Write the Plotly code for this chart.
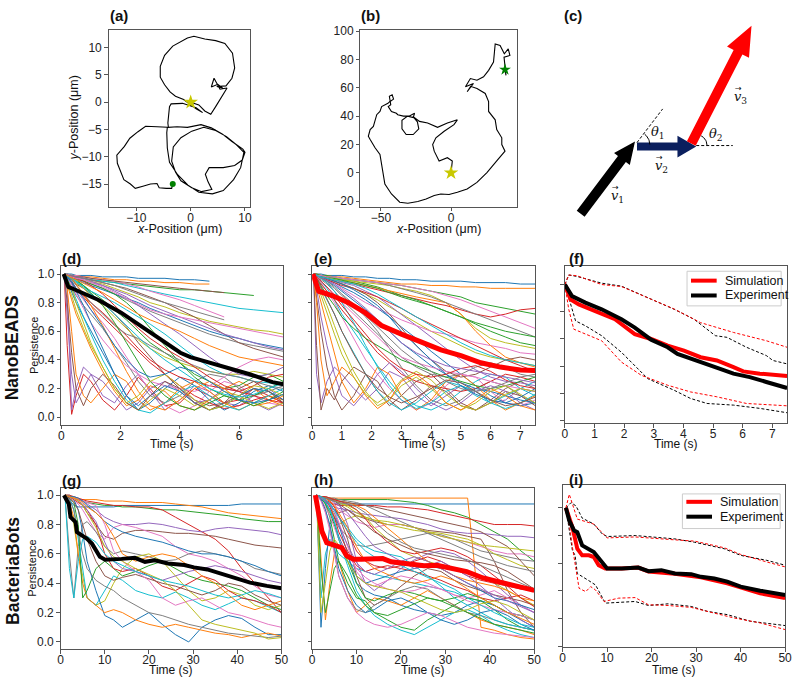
import plotly.graph_objects as go
import numpy as np

TAB10 = ["#1f77b4", "#ff7f0e", "#2ca02c", "#d62728", "#9467bd",
         "#8c564b", "#e377c2", "#7f7f7f", "#bcbd22", "#17becf"]
FONT = "Liberation Sans, Arial, sans-serif"

# ---------------- (a) trajectory ----------------
A_X = [0, 1.5, 2.6, 3.7, 4.6, 5.6, 6.7, 5.4, 4.3, 3.8, 5.0, 5.9, 4.8, 6.5, 7.6, 8.1, 7.7, 6.3, 4.6, 2.6,
       0.6, -0.6, -1.6, -3.3, -4.8, -5.6, -5.6, -4.8, -3.8, -2.8, -1.3, -0.2, 1.0, 2.2, 1.0, -1.5, -3.6,
       -3.9, -4.0, -4.2, -4.1, -2.5, -0.6, 1.2, 1.9, 3.8, 5.8, 7.6, 9.6, 10.0, 9.5, 8.1, 6.0, 3.4, 2.7,
       3.2, 3.9, 2.0, 0.2, -1.8, -2.8, -3.5, -3.2, -1.8, 0.2, 2.4, 4.6, 6.6, 8.3, 9.8, 9.2, 7.9, 6.0,
       4.0, 1.5, -0.5, -2.4, -3.9, -4.3, -4.4, -4.3, -6.2, -8.3, -9.7, -11.2, -12.2, -13.6, -13.5,
       -12.9, -12.3, -11.1, -10.2, -8.8, -7.4, -6.2, -5.8, -4.5, -3.5, -3.3]
A_Y = [0, -0.5, -1.6, -2.2, -0.8, 0.8, 2.6, 2.4, 4.4, 2.8, 3.3, 2.6, 2.9, 3.0, 4.4, 6.3, 9.0, 10.8, 11.3,
       11.6, 12.1, 11.8, 11.3, 10.3, 8.6, 6.6, 4.6, 3.2, 1.9, 1.1, 0.5, -0.3, -1.2, -1.9, -1.0, -0.2,
       -0.3, -0.8, -2.2, -3.8, -4.6, -4.5, -4.6, -4.2, -4.1, -4.7, -5.8, -7.2, -8.6, -9.2, -10.6, -11.6,
       -12.0, -12.0, -13.2, -14.6, -16.0, -16.4, -15.7, -14.4, -12.8, -10.8, -8.2, -6.5, -5.3, -4.6,
       -5.2, -6.3, -7.7, -9.2, -12.0, -14.2, -16.2, -16.8, -16.5, -15.2, -13.3, -11.0, -8.4, -5.6,
       -4.6, -4.5, -4.4, -5.4, -6.6, -8.1, -9.7, -11.2, -12.7, -14.2, -15.0, -15.8, -15.4, -15.0,
       -14.9, -15.7, -15.8, -15.8, -15.0]

# ---------------- (b) trajectory ----------------
B_X = [0, 0.9, -2.6, -8.5, -12, -13.1, -10.8, -4.9, 2.1, 4.5, -2.6, -9.6, -16.7, -22.5, -27.2,
       -24, -23, -27, -32, -35, -35, -31, -27, -26, -30, -34, -38, -39, -42.5, -44.8, -43, -44, -42,
       -41, -44, -43, -45, -49.5, -50.7, -53, -54.2, -55.4, -57.7, -59, -57.7, -54.2, -50.7, -49.5,
       -48.4, -47.2, -42.5, -36.6, -30.8, -23.7, -17.8, -12, -7.3, -1.4, 4.5, 11.5, 18.5, 25.6, 32.6,
       38.5, 36.2, 36.2, 32.6, 31.5, 26.8, 26.8, 24.4, 18.5, 14, 11.5, 16, 10.3, 13.8, 18.5, 23.2,
       26.8, 30.3, 30.8, 31.5, 35, 38, 40.8, 42, 37.8, 38.5, 39.2, 38.5]
B_Y = [0, 8.4, 10.7, 8.4, 15.3, 20, 24.7, 29.3, 34, 37.4, 35.1, 32.1, 35.1, 36.3, 39.8,
       36, 31, 27, 27, 31, 37, 40, 39, 42, 40, 40, 41, 42, 43.3, 46.7, 48, 54, 55,
       52, 50, 51, 49, 46.7, 43.3, 41, 36.3, 32.8, 30.5, 25.8, 23.5, 17.7, 13, 6,
       -0.9, -7.9, -14.9, -20.7, -21.4, -20.2, -18.4, -16, -14.9, -15.3, -13.7, -11.4, -6.7, 0.2, 8.4,
       15.3, 20, 24.7, 30.5, 37.4, 43.3, 50.2, 56, 59.5, 61, 57.2, 63, 60.7, 66.5, 65.3, 67.7,
       72.3, 78.1, 85.1, 90.9, 89.8, 84, 87.4, 82.8, 81.6, 75.8, 68.8, 72.8]

# ---------------- (c) diagram ----------------
ARROW_TAIL = [(45, 210), (102, 142), (157, 139)]
ARROW_TIP = [(100, 137), (162, 142), (218, 20)]
ARROW_COLOR = ["#000000", "#0b1f5e", "#ff0000"]
ARROW_SHAFT = [10, 8, 10]
ARROW_HEADW = [20, 22, 25]
ARROW_HEADL = [22, 19, 30]
DASH_START = [(102, 138), (162, 141)]
DASH_END = [(128, 104), (199, 141)]
ARC_CENTER = [(102, 140), (162, 141)]
ARC_RADIUS = [13, 11]
ARC_ANGLES = [(0, 53), (0, 63)]

# ---------------- (d) NanoBEADS experiment ----------------
D_T = [0.1, 0.2, 0.35, 0.5, 0.75, 1.0, 1.4, 1.8, 2.2, 2.6, 3.0, 3.5, 4.0, 4.5, 5.0, 5.5, 6.0, 6.5, 7.0, 7.5]
N = None
D_LINES = [
    [1, 1, 1, .99, .99, .99, .98, .98, .98, .97, .97, .97, .96, .96, .95, N, N, N, N, N],
    [1, 1, .99, .99, .98, .98, .97, .96, .96, .95, .95, .94, .94, .93, .93, N, N, N, N, N],
    [1, 1, .99, .98, .97, .96, .95, .94, .93, .92, .91, .90, .89, .89, .88, .87, .86, .85, N, N],
    [1, .5, .02, .15, .3, .25, .12, .05, .15, .28, .2, .08, .1, .2, .15, .1, .12, .2, .15, .1],
    [1, .9, .05, .2, .35, .3, .15, .1, .22, .3, .18, .05, .12, .22, .18, .1, .08, .15, .2, .12],
    [1, .98, .96, .93, .9, .86, .8, .72, .63, .52, .42, .3, .2, .12, .08, .1, .15, .2, .18, .12],
    [1, .97, .92, .88, .82, .75, .66, .55, .42, .3, .18, .08, .03, .08, .18, .25, .22, .15, .1, .08],
    [1, .99, .98, .97, .95, .93, .9, .86, .82, .78, .74, .7, .66, .62, .58, .55, .52, .5, .48, .46],
    [1, .99, .98, .97, .96, .95, .93, .9, .87, .84, .8, .77, .73, .7, .67, .65, .63, .61, .6, .58],
    [1, 1, .99, .98, .97, .96, .95, .94, .92, .9, .88, .86, .84, .82, .8, .78, .76, .75, .74, .73],
    [1, .95, .88, .8, .7, .6, .45, .3, .15, .05, .1, .2, .28, .22, .12, .05, .1, .18, .22, .18],
    [1, .92, .82, .72, .6, .48, .32, .18, .08, .12, .22, .18, .08, .05, .12, .2, .25, .2, .12, .08],
    [1, .99, .97, .95, .92, .88, .82, .75, .68, .6, .52, .45, .38, .3, .25, .2, .22, .28, .3, .25],
    [1, .98, .95, .9, .84, .78, .7, .62, .54, .46, .38, .3, .22, .15, .1, .06, .08, .12, .15, .1],
    [1, .7, .3, .1, .2, .3, .25, .15, .05, .1, .2, .25, .18, .1, .12, .2, .18, .1, .05, .1],
    [1, .99, .99, .98, .97, .96, .94, .92, .9, .87, .84, .8, .75, .7, .64, .58, .52, .48, .45, .42],
    [1, 1, .99, .99, .98, .97, .96, .95, .93, .91, .88, .85, .82, .78, .74, .7, N, N, N, N],
    [1, .96, .9, .85, .78, .72, .62, .5, .38, .25, .15, .1, .15, .25, .3, .28, .2, .15, .18, .22],
    [1, .99, .97, .94, .9, .85, .78, .7, .62, .54, .48, .42, .38, .35, .32, .3, .3, .32, .3, .28],
    [1, .98, .96, .94, .91, .88, .84, .8, .75, .7, .65, .58, .5, .42, .35, .3, .28, .25, .24, .22],
    [1, .99, .98, .96, .94, .92, .89, .86, .83, .8, .76, .72, .68, .64, .6, .57, .55, .52, .5, .48],
    [1, .9, .6, .3, .15, .1, .2, .3, .25, .12, .05, .1, .2, .25, .18, .1, .05, .1, .15, .12],
    [1, .99, .98, .97, .95, .93, .9, .86, .8, .72, .62, .5, .38, .28, .2, .15, .12, .15, .2, .25],
    [1, .97, .94, .9, .85, .8, .73, .65, .57, .48, .4, .33, .28, .25, .22, .2, .18, .15, .12, .1],
    [1, .99, .98, .97, .96, .94, .92, .89, .86, .82, .78, .74, .7, .66, .62, .58, .55, .52, .49, .47],
    [1, .99, .99, .98, .98, .97, .96, .95, .94, .93, .92, .91, .9, .89, .88, .87, N, N, N, N],
    [1, .98, .93, .86, .76, .66, .54, .44, .36, .3, .25, .22, .2, .18, .22, .28, .35, .4, .42, .4],
    [1, .99, .96, .92, .86, .8, .72, .64, .58, .55, .5, .45, .4, .36, .32, .3, .28, .25, .22, .2],
    [1, .93, .85, .75, .62, .5, .35, .2, .1, .05, .12, .2, .15, .08, .12, .18, .15, .1, .06, .1],
    [1, .97, .9, .82, .7, .58, .4, .25, .12, .05, .03, .1, .18, .22, .15, .08, .05, .1, .15, .2],
    [1, .98, .94, .88, .78, .66, .48, .3, .15, .08, .15, .22, .18, .1, .05, .08, .15, .2, .18, .12],
    [1, .99, .97, .93, .86, .78, .64, .48, .32, .18, .08, .05, .12, .2, .25, .2, .12, .08, .1, .15],
    [1, .99, .98, .96, .92, .87, .78, .66, .52, .38, .25, .15, .08, .05, .1, .15, .12, .08, .12, .18],
    [1, .99, .98, .97, .95, .92, .86, .78, .7, .62, .55, .48, .42, .35, .28, .22, .18, .22, .28, .3],
    [1, .99, .99, .98, .97, .95, .92, .88, .84, .78, .72, .65, .58, .5, .42, .35, .3, .28, .3, .35],
    [1, .8, .45, .2, .08, .2, .3, .22, .1, .05, .15, .25, .2, .1, .05, .1, .2, .25, .18, .1],
    [1, .99, .98, .97, .96, .94, .91, .87, .83, .79, .75, .72, .7, .68, .66, .64, .62, .6, .58, .56],
    [1, .99, .99, .98, .97, .96, .94, .92, .89, .86, .83, .8, .77, .74, .71, .68, N, N, N, N],
    [1, .96, .9, .8, .66, .52, .35, .2, .1, .15, .25, .3, .22, .12, .05, .08, .15, .22, .2, .15],
    [1, .99, .97, .95, .91, .86, .8, .72, .64, .56, .48, .4, .33, .26, .2, .16, .14, .16, .2, .24],
    [1, .98, .95, .9, .83, .75, .63, .5, .4, .32, .28, .3, .35, .32, .25, .18, .12, .1, .12, .16],
    [1, .99, .98, .96, .94, .91, .87, .82, .77, .72, .68, .64, .6, .55, .5, .46, .42, .4, .38, .36],
]
D_MEAN_T = [0.08, 0.24, 0.47, 1.24, 2.02, 3.02, 4.02, 4.36, 5.36, 6.36, 7.13, 7.5]
D_MEAN_Y = [1.0, 0.91, 0.89, 0.82, 0.73, 0.59, 0.45, 0.42, 0.36, 0.30, 0.245, 0.23]

# ---------------- (e) NanoBEADS simulation ----------------
E_T = [0.05, 0.15, 0.3, 0.5, 0.75, 1.0, 1.4, 1.8, 2.2, 2.6, 3.0, 3.5, 4.0, 4.5, 5.0, 5.5, 6.0, 6.5, 7.0, 7.5]
E_LINES = [
    [1, 1, 1, .99, .99, .99, .98, .98, .97, .97, .96, .96, .95, .95, .95, .94, .94, .94, .93, .93],
    [1, 1, .99, .99, .98, .98, .97, .96, .95, .94, .93, .93, .92, .92, .91, .91, .9, .9, .9, .9],
    [1, 1, .99, .99, .98, .97, .96, .95, .94, .93, .92, .9, .88, .86, .84, .8, .78, .76, .74, .72],
    [1, .99, .98, .97, .96, .95, .93, .91, .89, .87, .85, .82, .8, .78, .75, .72, .7, .72, .75, .76],
    [1, .3, .1, .25, .35, .3, .2, .12, .2, .32, .28, .15, .08, .15, .22, .18, .1, .12, .2, .18],
    [1, .5, .05, .2, .12, .25, .35, .3, .18, .08, .15, .25, .3, .2, .1, .05, .12, .2, .25, .2],
    [1, .98, .94, .88, .8, .7, .55, .4, .3, .2, .12, .05, .1, .22, .3, .28, .18, .1, .08, .12],
    [1, .99, .97, .94, .9, .85, .78, .7, .6, .48, .35, .22, .12, .08, .12, .2, .25, .22, .15, .1],
    [1, .99, .98, .97, .95, .93, .9, .86, .82, .77, .72, .66, .6, .55, .5, .45, .42, .4, .38, .36],
    [1, .98, .95, .9, .82, .72, .6, .48, .36, .25, .15, .08, .05, .1, .18, .25, .3, .28, .2, .15],
    [1, .99, .98, .96, .94, .91, .87, .82, .76, .7, .63, .55, .46, .38, .3, .22, .15, .1, .08, .1],
    [1, .92, .8, .65, .45, .25, .1, .2, .35, .3, .15, .05, .12, .25, .3, .22, .12, .05, .1, .15],
    [1, .99, .99, .98, .97, .96, .95, .93, .91, .88, .85, .82, .78, .74, .7, .65, .6, .56, .52, .5],
    [1, .97, .93, .88, .82, .75, .65, .55, .45, .38, .3, .25, .22, .2, .18, .2, .25, .3, .28, .25],
    [1, .99, .98, .97, .96, .94, .92, .88, .84, .78, .72, .64, .56, .48, .4, .33, .28, .25, .24, .22],
    [1, .85, .6, .35, .15, .05, .15, .3, .25, .12, .05, .12, .22, .18, .08, .05, .1, .18, .15, .08],
    [1, .99, .98, .96, .93, .9, .85, .8, .76, .72, .68, .64, .6, .58, .55, .52, .5, .48, .45, .44],
    [1, .98, .96, .93, .88, .82, .74, .66, .58, .5, .42, .35, .3, .28, .3, .35, .38, .35, .3, .28],
    [1, .99, .99, .98, .97, .96, .95, .94, .93, .92, .9, .88, .85, .8, .72, .62, .55, .52, .5, .48],
    [1, .96, .9, .82, .72, .6, .45, .3, .18, .1, .05, .1, .18, .25, .22, .15, .1, .15, .2, .25],
    [1, .99, .97, .95, .92, .88, .82, .75, .68, .6, .52, .44, .36, .3, .24, .2, .18, .15, .12, .1],
    [1, .99, .98, .97, .96, .95, .94, .92, .9, .88, .86, .84, .82, .8, .72, .6, .5, .42, .38, .35],
    [1, .97, .92, .85, .78, .7, .62, .55, .5, .45, .4, .36, .32, .28, .25, .22, .2, .22, .25, .28],
    [1, .99, .98, .96, .94, .92, .9, .87, .84, .8, .76, .7, .65, .6, .55, .5, .45, .4, .36, .32],
    [1, .9, .7, .5, .3, .15, .08, .18, .3, .38, .32, .2, .1, .05, .1, .18, .22, .18, .1, .05],
    [1, .99, .98, .97, .95, .93, .9, .86, .8, .72, .62, .5, .4, .32, .28, .3, .35, .4, .42, .4],
    [1, .98, .95, .91, .86, .8, .72, .64, .56, .48, .42, .38, .35, .32, .3, .28, .25, .22, .2, .18],
    [1, .99, .99, .98, .98, .97, .96, .95, .94, .92, .9, .87, .84, .8, .76, .72, .68, .64, .6, .56],
    [1, .96, .88, .78, .64, .5, .32, .18, .08, .12, .22, .28, .2, .1, .05, .1, .18, .22, .16, .1],
    [1, .99, .97, .94, .88, .8, .66, .5, .35, .22, .12, .06, .1, .18, .22, .18, .1, .06, .1, .16],
    [1, .99, .98, .97, .95, .93, .89, .84, .78, .7, .6, .5, .4, .3, .22, .16, .12, .1, .14, .2],
    [1, .8, .4, .15, .25, .35, .28, .15, .06, .12, .25, .3, .22, .1, .05, .12, .2, .15, .08, .05],
    [1, .99, .99, .98, .97, .96, .94, .92, .9, .87, .84, .81, .78, .74, .7, .66, .63, .6, .58, .56],
    [1, .98, .95, .91, .85, .78, .68, .58, .48, .4, .34, .3, .28, .3, .34, .36, .32, .26, .22, .2],
    [1, .99, .98, .96, .93, .89, .83, .76, .68, .6, .52, .45, .4, .36, .34, .32, .3, .28, .26, .24],
    [1, .97, .91, .83, .72, .6, .44, .3, .2, .14, .1, .14, .2, .26, .24, .18, .12, .08, .1, .14],
    [1, .99, .99, .98, .98, .97, .96, .95, .94, .93, .92, .9, .88, .85, .82, .78, .74, .7, .66, .62],
    [1, .99, .97, .95, .91, .86, .79, .71, .63, .55, .47, .39, .32, .25, .2, .18, .2, .24, .28, .3],
    [1, .94, .84, .72, .58, .44, .28, .16, .1, .16, .26, .32, .26, .16, .08, .05, .1, .16, .2, .18],
    [1, .99, .98, .97, .96, .95, .93, .9, .86, .81, .76, .7, .64, .58, .52, .47, .43, .4, .38, .36],
]
E_MEAN_T = [0.03, 0.22, 0.67, 1.22, 1.78, 2.33, 3.0, 3.67, 4.33, 5.0, 5.67, 6.33, 7.0, 7.5]
E_MEAN_Y = [1.0, 0.88, 0.85, 0.80, 0.73, 0.64, 0.58, 0.52, 0.47, 0.43, 0.38, 0.35, 0.33, 0.326]

# ---------------- (f) NanoBEADS comparison ----------------
F_EXP_T = [0, 0.24, 0.69, 1.24, 1.91, 2.36, 2.91, 3.47, 3.8, 4.24, 4.8, 5.24, 5.69, 6.24, 6.8, 7.13, 7.5]
F_EXP_Y = [1.0, 0.915, 0.867, 0.818, 0.745, 0.684, 0.595, 0.539, 0.49, 0.459, 0.417, 0.381, 0.345, 0.32, 0.284, 0.26, 0.24]
F_SIM_T = [0, 0.19, 0.47, 1.02, 1.69, 2.36, 2.91, 3.47, 4.02, 4.58, 5.13, 5.69, 6.02, 6.58, 7.5]
F_SIM_Y = [1.0, 0.89, 0.854, 0.806, 0.745, 0.636, 0.6, 0.551, 0.515, 0.466, 0.442, 0.393, 0.362, 0.345, 0.328]
F_EXP_HI_T = [0, 0.13, 0.4, 1.24, 1.91, 2.91, 3.69, 4.36, 5.08, 5.47, 6.13, 6.8, 7.02, 7.5]
F_EXP_HI_Y = [1.0, 1.07, 1.06, 1.01, 0.988, 0.89, 0.818, 0.745, 0.624, 0.612, 0.539, 0.478, 0.442, 0.417]
F_SIM_HI_T = [0, 0.13, 0.4, 1.24, 1.91, 2.91, 3.69, 4.58, 5.69, 6.8, 7.5]
F_SIM_HI_Y = [1.0, 1.07, 1.065, 1.0, 0.985, 0.89, 0.82, 0.72, 0.648, 0.587, 0.539]
F_EXP_LO_T = [0, 0.24, 0.36, 0.69, 1.24, 1.91, 2.8, 3.69, 4.24, 4.8, 5.69, 6.58, 7.5]
F_EXP_LO_Y = [1.0, 0.818, 0.733, 0.697, 0.624, 0.502, 0.308, 0.223, 0.163, 0.126, 0.114, 0.09, 0.058]
F_SIM_LO_T = [0, 0.13, 0.3, 0.69, 1.24, 1.91, 2.58, 3.47, 4.24, 5.13, 6.13, 7.5]
F_SIM_LO_Y = [1.0, 0.818, 0.672, 0.636, 0.587, 0.43, 0.333, 0.26, 0.211, 0.175, 0.126, 0.109]

# ---------------- (g) BacteriaBots experiment ----------------
G_T = [1, 2, 3, 4, 5, 6, 8, 10, 12, 14, 17, 20, 23, 26, 29, 32, 35, 38, 41, 44, 47, 50]
G_LINES = [
    [1, .97, .93, .92, .92, .92, .92, .92, .92, .93, .93, .93, .93, .93, .93, .93, .93, .93, .94, .94, .94, .94],
    [1, .99, .98, .97, .97, .97, .97, .96, .96, .96, .95, .95, .95, .94, .93, .92, .9, .88, .87, .86, .85, .84],
    [1, .99, .98, .97, .96, .95, .94, .93, .93, .92, .92, .91, .9, .9, .89, .88, .87, .86, .84, .83, .82, .82],
    [1, 1, .99, .98, .97, .96, .95, .94, .93, .93, .92, .92, .9, .85, .8, .75, .7, .62, .5, .4, .3, .2],
    [1, .99, .98, .97, .96, .94, .9, .85, .82, .8, .8, .81, .8, .78, .76, .75, .77, .78, .77, .76, .75, .73],
    [1, 1, .98, .96, .93, .88, .8, .72, .7, .74, .76, .76, .75, .74, .74, .73, .72, .7, .68, .66, .65, .64],
    [1, .98, .96, .94, .9, .85, .75, .7, .78, .8, .78, .75, .72, .65, .6, .58, .55, .5, .45, .38, .32, .3],
    [1, .6, .3, .65, .8, .82, .75, .65, .6, .62, .6, .58, .55, .56, .6, .62, .6, .58, .55, .5, .48, .46],
    [1, .95, .8, .6, .45, .3, .25, .28, .4, .5, .58, .6, .55, .45, .35, .28, .3, .35, .32, .25, .22, .25],
    [1, .98, .9, .7, .5, .3, .25, .35, .45, .42, .35, .32, .3, .34, .3, .25, .22, .26, .3, .28, .24, .2],
    [1, .99, .97, .9, .75, .55, .35, .18, .15, .1, .15, .2, .12, .05, .0, .1, .15, .18, .16, .1, .05, .05],
    [1, .95, .85, .6, .4, .3, .25, .2, .22, .2, .15, .12, .1, .12, .1, .08, .06, .05, .03, .05, .06, .04],
    [1, .98, .95, .8, .3, .35, .5, .55, .5, .45, .48, .52, .55, .5, .45, .42, .4, .38, .35, .3, .25, .22],
    [1, .99, .97, .95, .93, .9, .8, .6, .5, .48, .5, .45, .38, .35, .4, .45, .42, .35, .3, .28, .25, .2],
    [1, .99, .98, .96, .94, .9, .82, .68, .55, .5, .48, .45, .42, .45, .48, .5, .52, .5, .48, .45, .42, .4],
    [1, .98, .95, .9, .8, .7, .55, .45, .42, .44, .46, .43, .4, .38, .35, .32, .35, .4, .38, .32, .28, .25],
    [1, .99, .98, .97, .96, .95, .93, .8, .62, .55, .48, .42, .3, .25, .28, .3, .25, .2, .18, .15, .12, .1],
    [1, .97, .9, .75, .6, .5, .42, .38, .35, .3, .25, .2, .18, .15, .12, .1, .08, .06, .05, .04, .03, .04],
    [1, .99, .98, .96, .93, .88, .78, .65, .58, .55, .5, .46, .42, .35, .25, .15, .12, .1, .08, .06, .02, .03],
    [1, .5, .3, .55, .7, .72, .68, .6, .55, .52, .48, .45, .42, .4, .38, .35, .32, .3, .32, .35, .33, .3],
    [1, .99, .99, .98, .96, .93, .88, .82, .78, .75, .72, .7, .68, .65, .62, .6, .6, .58, .55, .52, .48, .45],
    [1, .99, .98, .97, .95, .92, .88, .82, .72, .6, .55, .58, .6, .58, .52, .45, .4, .32, .25, .22, .25, .28],
]
G_MEAN_T = [0.76, 1.87, 2.25, 3.4, 3.7, 4.9, 6.0, 7.1, 7.8, 8.9, 10.1, 11.6, 13.8, 16.8, 19.1, 21.3, 24.3,
            28.0, 30.2, 33.2, 36.2, 39.2, 42.9, 46.7, 50]
G_MEAN_Y = [1.0, 0.94, 0.85, 0.816, 0.748, 0.726, 0.703, 0.67, 0.636, 0.58, 0.56, 0.56, 0.566, 0.573, 0.546,
            0.557, 0.535, 0.524, 0.508, 0.494, 0.467, 0.434, 0.404, 0.382, 0.366]

# ---------------- (h) BacteriaBots simulation ----------------
H_T = [1, 2, 3, 4, 5, 6, 8, 10, 12, 14, 17, 20, 23, 26, 29, 32, 35, 38, 41, 44, 47, 50]
H_LINES = [
    [1, .97, .95, .94, .94, .94, .94, .94, .94, .94, .94, .94, .94, .94, .94, .94, .94, .94, .94, .94, .94, .94],
    [1, .99, .98, .98, .98, .98, .98, .98, .98, .98, .98, .98, .98, .98, .98, .98, .98, .1, .08, .05, .03, .02],
    [1, .99, .98, .98, .97, .97, .97, .97, .97, .97, .97, .96, .95, .93, .9, .88, .85, .8, .75, .7, .62, .55],
    [1, .99, .97, .95, .94, .93, .93, .93, .93, .93, .92, .92, .91, .9, .88, .86, .84, .82, .8, .8, .8, .79],
    [1, .98, .95, .93, .92, .91, .9, .88, .87, .86, .85, .84, .82, .8, .77, .75, .74, .74, .73, .72, .72, .71],
    [1, .98, .96, .93, .9, .88, .9, .86, .84, .82, .8, .8, .78, .76, .75, .74, .72, .7, .55, .35, .2, .1],
    [1, .99, .98, .96, .94, .9, .86, .82, .8, .78, .8, .8, .78, .75, .72, .7, .68, .65, .62, .6, .6, .58],
    [1, .98, .95, .9, .85, .78, .72, .66, .65, .66, .68, .7, .72, .74, .73, .7, .66, .62, .6, .58, .56, .55],
    [1, .99, .97, .93, .86, .8, .84, .86, .85, .83, .8, .78, .76, .75, .74, .72, .7, .66, .6, .56, .52, .5],
    [1, .3, .6, .7, .66, .6, .55, .5, .48, .46, .44, .42, .4, .38, .36, .34, .3, .28, .25, .2, .18, .15],
    [1, .1, .5, .8, .85, .8, .6, .4, .35, .32, .3, .25, .22, .2, .18, .2, .25, .28, .25, .2, .15, .1],
    [1, .6, .15, .4, .6, .55, .35, .2, .25, .3, .28, .25, .3, .35, .3, .25, .2, .15, .12, .1, .08, .05],
    [1, .98, .94, .85, .7, .55, .4, .3, .28, .2, .15, .1, .08, .15, .2, .25, .3, .28, .22, .15, .1, .08],
    [1, .99, .97, .92, .85, .75, .62, .52, .48, .5, .52, .5, .48, .45, .42, .38, .35, .3, .28, .3, .32, .28],
    [1, .99, .98, .97, .96, .95, .8, .55, .4, .35, .42, .5, .56, .6, .62, .6, .55, .48, .4, .32, .25, .2],
    [1, .98, .96, .94, .9, .86, .7, .45, .3, .25, .3, .38, .45, .5, .48, .42, .38, .35, .32, .3, .28, .25],
    [1, .99, .97, .94, .9, .82, .65, .48, .4, .38, .42, .45, .43, .4, .36, .32, .3, .32, .35, .3, .25, .2],
    [1, .97, .9, .78, .62, .45, .3, .22, .2, .25, .3, .35, .38, .36, .3, .25, .2, .18, .15, .12, .1, .08],
    [1, .99, .98, .97, .96, .95, .93, .9, .85, .78, .7, .62, .58, .55, .52, .5, .48, .45, .4, .35, .3, .25],
    [1, .99, .97, .94, .9, .85, .78, .7, .65, .62, .6, .58, .52, .45, .38, .3, .25, .2, .15, .12, .1, .08],
    [1, .98, .95, .9, .82, .72, .58, .45, .4, .42, .45, .48, .5, .52, .5, .45, .4, .35, .3, .28, .25, .22],
    [1, .99, .99, .98, .97, .96, .95, .93, .9, .85, .78, .7, .62, .55, .5, .45, .42, .4, .38, .35, .3, .28],
    [1, .98, .94, .88, .8, .7, .55, .4, .3, .28, .32, .35, .33, .3, .28, .3, .33, .3, .25, .2, .18, .15],
    [1, .99, .98, .96, .92, .86, .75, .62, .55, .52, .5, .52, .55, .58, .55, .5, .45, .42, .4, .38, .36, .35],
    [1, .99, .98, .97, .95, .93, .88, .8, .72, .65, .6, .55, .5, .52, .55, .5, .45, .38, .3, .22, .15, .1],
    [1, .99, .98, .97, .97, .96, .95, .94, .93, .92, .9, .88, .86, .84, .82, .8, .78, .75, .7, .65, .55, .45],
    [1, .97, .92, .86, .78, .7, .6, .5, .44, .4, .36, .34, .35, .38, .36, .32, .28, .25, .22, .2, .18, .15],
    [1, .99, .99, .98, .98, .97, .96, .95, .93, .9, .86, .82, .78, .74, .7, .66, .62, .58, .55, .52, .5, .48],
    [1, .99, .98, .97, .96, .95, .92, .88, .85, .83, .82, .8, .78, .75, .72, .7, .68, .66, .65, .64, .63, .62],
    [1, .98, .95, .9, .82, .7, .52, .35, .25, .18, .12, .08, .05, .1, .15, .2, .22, .18, .12, .08, .05, .03],
    [1, .97, .9, .8, .65, .5, .35, .25, .2, .22, .28, .3, .26, .2, .15, .12, .15, .2, .22, .18, .12, .08],
    [1, .99, .98, .96, .93, .88, .78, .65, .55, .5, .46, .42, .4, .42, .45, .42, .36, .3, .25, .2, .16, .12],
    [1, .5, .2, .35, .5, .55, .45, .32, .25, .2, .18, .22, .26, .3, .28, .24, .2, .16, .12, .1, .08, .06],
    [1, .99, .99, .98, .97, .96, .94, .9, .84, .76, .68, .62, .6, .62, .64, .62, .58, .52, .45, .38, .3, .24],
    [1, .98, .96, .93, .88, .8, .66, .54, .48, .46, .5, .55, .58, .55, .5, .45, .4, .36, .32, .28, .24, .2],
    [1, .99, .98, .97, .96, .94, .9, .85, .8, .75, .7, .66, .62, .6, .58, .56, .55, .54, .52, .48, .42, .36],
    [1, .96, .88, .76, .6, .45, .3, .2, .15, .12, .1, .12, .16, .2, .18, .14, .1, .08, .06, .05, .04, .03],
    [1, .99, .98, .97, .96, .95, .94, .92, .88, .82, .74, .68, .64, .62, .6, .58, .56, .52, .48, .44, .4, .36],
    [1, .2, .4, .62, .7, .66, .55, .45, .4, .38, .36, .34, .3, .26, .22, .2, .22, .26, .28, .25, .2, .15],
    [1, .99, .97, .94, .9, .85, .76, .68, .62, .58, .56, .52, .48, .44, .4, .36, .3, .25, .2, .16, .12, .1],
]
H_MEAN_T = [0.74, 1.5, 2.2, 3.3, 4.4, 5.6, 6.7, 7.8, 9.3, 11.1, 14.1, 15.9, 17.8, 21.5, 25.2, 28.1, 31.9,
            34.8, 38.5, 42.2, 45.9, 50]
H_MEAN_Y = [1.0, 0.866, 0.754, 0.676, 0.664, 0.653, 0.642, 0.586, 0.564, 0.564, 0.57, 0.568, 0.546, 0.53,
            0.519, 0.523, 0.501, 0.479, 0.436, 0.407, 0.378, 0.351]

# ---------------- (i) BacteriaBots comparison ----------------
I_EXP_T = [0.74, 1.5, 2.6, 3.3, 4.4, 5.6, 7.0, 8.5, 10.0, 13.3, 17.0, 19.3, 22.2, 25.2, 28.9, 31.1, 34.1,
           37.0, 40.0, 44.4, 50]
I_EXP_Y = [1.0, 0.907, 0.836, 0.824, 0.729, 0.705, 0.681, 0.621, 0.562, 0.562, 0.569, 0.543, 0.55, 0.526,
           0.521, 0.502, 0.49, 0.467, 0.431, 0.402, 0.371]
I_SIM_T = [0.74, 2.2, 3.3, 4.4, 5.9, 7.0, 8.1, 9.6, 13.3, 17.0, 19.3, 25.2, 31.1, 37.0, 44.4, 50]
I_SIM_Y = [1.0, 0.86, 0.705, 0.657, 0.657, 0.645, 0.586, 0.562, 0.562, 0.569, 0.54, 0.524, 0.498, 0.455,
           0.383, 0.348]
I_EXP_HI_T = [0.74, 1.9, 3.0, 4.4, 7.0, 8.9, 10.0, 16.3, 25.2, 29.6, 36.3, 40.0, 45.9, 50]
I_EXP_HI_Y = [1.0, 1.038, 1.014, 0.926, 0.883, 0.812, 0.793, 0.8, 0.776, 0.752, 0.705, 0.657, 0.621, 0.586]
I_SIM_HI_T = [0.74, 1.5, 3.3, 7.0, 10.0, 16.3, 25.2, 29.6, 36.3, 40.0, 45.9, 50]
I_SIM_HI_Y = [1.0, 1.098, 0.919, 0.883, 0.783, 0.79, 0.769, 0.76, 0.712, 0.664, 0.609, 0.574]
I_EXP_LO_T = [0.74, 2.2, 2.8, 3.3, 5.9, 7.4, 9.6, 13.3, 16.3, 19.3, 23.7, 28.9, 32.6, 37.0, 42.2, 50]
I_EXP_LO_Y = [1.0, 0.693, 0.657, 0.526, 0.474, 0.443, 0.312, 0.317, 0.324, 0.295, 0.307, 0.288, 0.252,
              0.229, 0.181, 0.15]
I_SIM_LO_T = [0.74, 1.5, 2.2, 3.7, 5.2, 6.3, 7.4, 9.3, 12.6, 16.3, 19.3, 23.7, 28.9, 32.6, 38.5, 44.4, 50]
I_SIM_LO_Y = [1.0, 0.883, 0.717, 0.419, 0.395, 0.431, 0.407, 0.324, 0.348, 0.352, 0.3, 0.295, 0.281,
              0.252, 0.205, 0.169, 0.121]

# ================= layout helpers =================
W, H = 800, 679


def xd(x0, x1):
    return [x0 / W, x1 / W]


def yd(top, bot):
    return [1 - bot / H, 1 - top / H]


fig = go.Figure()

AX = dict(showline=True, mirror=True, linecolor="#555555", linewidth=1, ticks="outside",
          ticklen=3.5, tickwidth=1, tickcolor="#555555", showgrid=False, zeroline=False,
          tickfont=dict(family=FONT, size=12, color="#222222"))

BOX = {
    1: ((107, 250), (24, 203), [-15.1, 10.9], [-19.2, 13.3]),
    2: ((362, 520), (24, 203), [-64.6, 46.7], [-24, 100.9]),
    4: ((59, 284), (263, 423), [0, 7.5], [-0.052, 1.054]),
    5: ((313, 539), (263, 423), [0, 7.5], [-0.052, 1.054]),
    6: ((569, 794), (263, 421.7), [0, 7.5], [-0.02, 1.134]),
    7: ((58.3, 282), (486.7, 650), [0, 50], [-0.05, 1.051]),
    8: ((313, 538), (486.7, 650), [0, 50], [-0.05, 1.051]),
    9: ((566.7, 792), (484, 647.7), [0, 50], [-0.005, 1.165]),
}
XTICKS = {1: [-10, 0, 10], 2: [-50, 0], 4: [0, 2, 4, 6], 5: list(range(8)), 6: list(range(8)),
          7: [0, 10, 20, 30, 40, 50], 8: [0, 10, 20, 30, 40, 50], 9: [0, 10, 20, 30, 40, 50]}
YTICKS = {1: [-15, -10, -5, 0, 5, 10], 2: [-20, 0, 20, 40, 60, 80, 100]}
PERS_TICKS = [0, 0.2, 0.4, 0.6, 0.8, 1.0]
SHOW_YLABELS = {1: True, 2: True, 4: True, 5: False, 6: False, 7: True, 8: False, 9: False}

lay = {}
for k, (xp, yp, xr, yr) in BOX.items():
    xs = "xaxis" if k == 1 else f"xaxis{k}"
    ys = "yaxis" if k == 1 else f"yaxis{k}"
    ya = "y" if k == 1 else f"y{k}"
    xa = "x" if k == 1 else f"x{k}"
    lay[xs] = dict(AX, domain=xd(*xp), range=xr, anchor=ya, tickvals=XTICKS[k], ticklabelstandoff=-4)
    yt = YTICKS.get(k, PERS_TICKS)
    lay[ys] = dict(AX, domain=yd(*yp), range=yr, anchor=xa, tickvals=yt,
                   showticklabels=SHOW_YLABELS[k], tickformat=".1f" if k > 2 else None)
lay["xaxis3"] = dict(domain=xd(540, 800), range=[0, 260], visible=False, anchor="y3")
lay["yaxis3"] = dict(domain=yd(0, 230), range=[230, 0], visible=False, anchor="x3")
fig.update_layout(**lay)


def add_line(x, y, k, color, width=1.0, dash=None):
    xa = "x" if k == 1 else f"x{k}"
    ya = "y" if k == 1 else f"y{k}"
    fig.add_trace(go.Scatter(x=x, y=y, mode="lines", xaxis=xa, yaxis=ya, showlegend=False,
                             hoverinfo="skip", connectgaps=False,
                             line=dict(color=color, width=width, dash=dash)))


# (a)
add_line(A_X, A_Y, 1, "black", 1.1)
fig.add_trace(go.Scatter(x=[A_X[0]], y=[A_Y[0]], mode="markers", xaxis="x", yaxis="y", showlegend=False,
                         marker=dict(symbol="star", size=11, color="#c8c800")))
fig.add_trace(go.Scatter(x=[A_X[-1]], y=[A_Y[-1]], mode="markers", xaxis="x", yaxis="y", showlegend=False,
                         marker=dict(symbol="circle", size=6, color="#008000")))
# (b)
add_line(B_X, B_Y, 2, "black", 1.1)
fig.add_trace(go.Scatter(x=[B_X[0]], y=[B_Y[0]], mode="markers", xaxis="x2", yaxis="y2", showlegend=False,
                         marker=dict(symbol="star", size=11, color="#c8c800")))
fig.add_trace(go.Scatter(x=[B_X[-1]], y=[B_Y[-1]], mode="markers", xaxis="x2", yaxis="y2", showlegend=False,
                         marker=dict(symbol="star", size=9, color="#008000")))

# (c) diagram arrows
for tail, tip, col, sw, hw, hl in zip(ARROW_TAIL, ARROW_TIP, ARROW_COLOR, ARROW_SHAFT, ARROW_HEADW, ARROW_HEADL):
    p0 = np.array(tail, float)
    p1 = np.array(tip, float)
    u = (p1 - p0) / np.linalg.norm(p1 - p0)
    n = np.array([-u[1], u[0]])
    base = p1 - u * hl
    pts = [p0 + n * sw / 2, base + n * sw / 2, base + n * hw / 2, p1,
           base - n * hw / 2, base - n * sw / 2, p0 - n * sw / 2, p0 + n * sw / 2]
    fig.add_trace(go.Scatter(x=[p[0] for p in pts], y=[p[1] for p in pts], mode="lines", fill="toself",
                             fillcolor=col, line=dict(width=0, color=col), xaxis="x3", yaxis="y3",
                             showlegend=False, hoverinfo="skip"))
for s, e in zip(DASH_START, DASH_END):
    fig.add_trace(go.Scatter(x=[s[0], e[0]], y=[s[1], e[1]], mode="lines", xaxis="x3", yaxis="y3",
                             line=dict(color="black", width=1, dash="3px,2px"), showlegend=False,
                             hoverinfo="skip"))
for c, r, (a0, a1) in zip(ARC_CENTER, ARC_RADIUS, ARC_ANGLES):
    ang = np.radians(np.linspace(a0, a1, 20))
    fig.add_trace(go.Scatter(x=c[0] + r * np.cos(ang), y=c[1] - r * np.sin(ang), mode="lines",
                             xaxis="x3", yaxis="y3", line=dict(color="black", width=1),
                             showlegend=False, hoverinfo="skip"))

# (d)
for i, ys in enumerate(D_LINES):
    add_line(D_T, ys, 4, TAB10[i % 10], 1.0)
add_line(D_MEAN_T, D_MEAN_Y, 4, "black", 4)
# (e)
for i, ys in enumerate(E_LINES):
    add_line(E_T, ys, 5, TAB10[i % 10], 1.0)
add_line(E_MEAN_T, E_MEAN_Y, 5, "#ff0000", 5)
# (f)
DOT = "3px,2px"
add_line(F_EXP_HI_T, F_EXP_HI_Y, 6, "black", 1, DOT)
add_line(F_EXP_LO_T, F_EXP_LO_Y, 6, "black", 1, DOT)
add_line(F_SIM_HI_T, F_SIM_HI_Y, 6, "#ff0000", 1, DOT)
add_line(F_SIM_LO_T, F_SIM_LO_Y, 6, "#ff0000", 1, DOT)
add_line(F_SIM_T, F_SIM_Y, 6, "#ff0000", 4)
add_line(F_EXP_T, F_EXP_Y, 6, "black", 4)
# (g)
for i, ys in enumerate(G_LINES):
    add_line(G_T, ys, 7, TAB10[i % 10], 1.0)
add_line(G_MEAN_T, G_MEAN_Y, 7, "black", 4)
# (h)
for i, ys in enumerate(H_LINES):
    add_line(H_T, ys, 8, TAB10[i % 10], 1.0)
add_line(H_MEAN_T, H_MEAN_Y, 8, "#ff0000", 5)
# (i)
add_line(I_EXP_HI_T, I_EXP_HI_Y, 9, "black", 1, DOT)
add_line(I_EXP_LO_T, I_EXP_LO_Y, 9, "black", 1, DOT)
add_line(I_SIM_HI_T, I_SIM_HI_Y, 9, "#ff0000", 1, DOT)
add_line(I_SIM_LO_T, I_SIM_LO_Y, 9, "#ff0000", 1, DOT)
add_line(I_SIM_T, I_SIM_Y, 9, "#ff0000", 4)
add_line(I_EXP_T, I_EXP_Y, 9, "black", 4)

# ================= texts =================
ann = []
shapes = []


def text(x, y, s, size=12, bold=False, angle=0, xanchor="center", yanchor="middle", family=FONT):
    ann.append(dict(x=x / W, y=1 - y / H, xref="paper", yref="paper", text=(f"<b>{s}</b>" if bold else s),
                    showarrow=False, textangle=angle, xanchor=xanchor, yanchor=yanchor,
                    font=dict(family=family, size=size, color="#111111")))


for lab, x, y in [("(a)", 106, 10), ("(b)", 360, 10), ("(c)", 566, 10), ("(d)", 58, 255), ("(e)", 313, 255),
                  ("(f)", 571, 255), ("(g)", 58, 479), ("(h)", 313, 478), ("(i)", 571, 478)]:
    text(x, y, lab, size=15, bold=True, xanchor="left")
text(178.5, 225, "<i>x</i>-Position (μm)", 12.5)
text(441, 225, "<i>x</i>-Position (μm)", 12.5)
text(72, 113.5, "<i>y</i>-Position (μm)", 12.5, angle=-90)
for xc in [171.5, 426, 681.5]:
    text(xc, 443, "Time (s)", 12)
for xc in [170, 425.5, 679.5]:
    text(xc, 671, "Time (s)", 12)
text(32, 343, "Persistence", 11, angle=-90)
text(30, 568, "Persistence", 11, angle=-90)
text(10, 345, "NanoBEADS", 17.5, bold=True, angle=-90)
text(10, 571, "BacteriaBots", 17.5, bold=True, angle=-90)

SER = "DejaVu Serif, serif"
text(540 + 123, 128, "<i>θ</i><sub>1</sub>", 13, family=SER)
text(540 + 182, 130, "<i>θ</i><sub>2</sub>", 13, family=SER)
for lab, vx, vy in [("2", 127, 162), ("1", 82, 192), ("3", 207, 92)]:
    text(540 + vx, vy, f"<i>v</i><sub>{lab}</sub>", 13, family=SER)
    text(540 + vx - 2, vy - 9, "→", 8, family="DejaVu Sans")

for (bx0, bx1, by0, by1, ys_, ye_) in [(692.7, 788, 268, 303, 277.5, 292.5), (688, 787, 493, 528, 501, 516)]:
    shapes.append(dict(type="rect", xref="paper", yref="paper", x0=bx0 / W, x1=bx1 / W,
                       y0=1 - by1 / H, y1=1 - by0 / H, line=dict(color="#cccccc", width=1),
                       fillcolor="rgba(255,255,255,0.85)", layer="above"))
    for yy, col, lab in [(ys_, "#ff0000", "Simulation"), (ye_, "black", "Experiment")]:
        shapes.append(dict(type="line", xref="paper", yref="paper", x0=(bx0 + 4) / W, x1=(bx0 + 30) / W,
                           y0=1 - yy / H, y1=1 - yy / H, line=dict(color=col, width=4), layer="above"))
        text(bx0 + 36, yy, lab, 12.5, xanchor="left")

fig.update_layout(width=W, height=H, margin=dict(l=0, r=0, t=0, b=0), paper_bgcolor="white",
                  plot_bgcolor="white", showlegend=False, annotations=ann, shapes=shapes)
fig.write_html("out.html", config={"displayModeBar": False},
               post_script="document.body.style.margin='0px';")
